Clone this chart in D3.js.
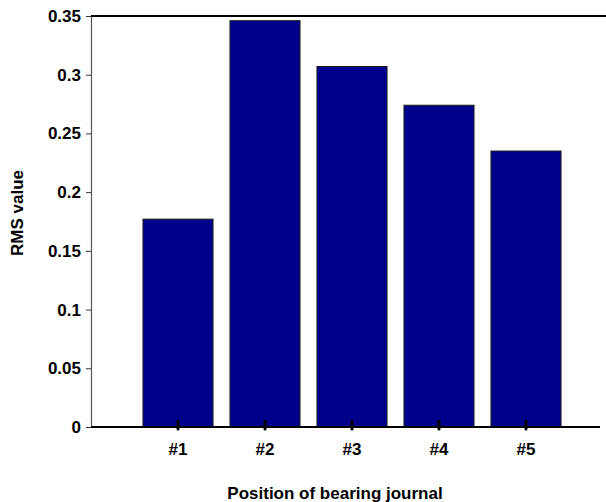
<!DOCTYPE html>
<html>
<head>
<meta charset="utf-8">
<script src="https://cdn.jsdelivr.net/npm/d3@7"></script>
<style>
  html, body { margin: 0; padding: 0; background: #fff; }
  svg { display: block; font-family: "Liberation Sans", Arial, sans-serif; }
</style>
</head>
<body>
<svg id="chart" width="606" height="502"></svg>
<script>
// Bearing journal positions and their RMS values
const positions = ["#1", "#2", "#3", "#4", "#5"];
const rmsValues = [0.177, 0.346, 0.307, 0.274, 0.235];
const yTickValues = [0, 0.05, 0.1, 0.15, 0.2, 0.25, 0.3, 0.35];
const yTickLabels = ["0", "0.05", "0.1", "0.15", "0.2", "0.25", "0.3", "0.35"];

const svg = d3.select("#chart");
const plotLeft = 91, plotRight = 606, plotTop = 16, plotBottom = 427;

const y = d3.scaleLinear().domain([0, 0.35]).range([plotBottom, plotTop]);
const x = d3.scaleBand()
  .domain(positions)
  .range([plotLeft, 613])
  .paddingInner(0.195)
  .paddingOuter(0.5975);

// Bars
svg.append("g")
  .selectAll("rect")
  .data(positions)
  .join("rect")
  .attr("x", d => x(d))
  .attr("width", x.bandwidth())
  .attr("y", (d, i) => y(rmsValues[i]))
  .attr("height", (d, i) => y(0) - y(rmsValues[i]))
  .attr("fill", "#00008c")
  .attr("stroke", "#1a1a1a")
  .attr("stroke-width", 1);

// Y axis
const yAxis = d3.axisLeft(y)
  .tickValues(yTickValues)
  .tickFormat((d, i) => yTickLabels[i])
  .tickSize(5)
  .tickSizeOuter(0)
  .tickPadding(5);
const gy = svg.append("g")
  .attr("transform", `translate(${plotLeft},0)`)
  .call(yAxis);
gy.select(".domain").attr("stroke", "#555").attr("stroke-width", 1.2);
gy.selectAll(".tick line").attr("stroke", "#333");
gy.selectAll(".tick text")
  .attr("font-size", 17)
  .attr("font-weight", "bold")
  .attr("fill", "#000")
  .attr("font-family", "'Liberation Sans', Arial, sans-serif");

// Top frame line
svg.append("line")
  .attr("x1", plotLeft).attr("x2", plotRight)
  .attr("y1", plotTop).attr("y2", plotTop)
  .attr("stroke", "#000").attr("stroke-width", 2);

// X axis baseline
svg.append("line")
  .attr("x1", plotLeft).attr("x2", 600)
  .attr("y1", plotBottom).attr("y2", plotBottom)
  .attr("stroke", "#000").attr("stroke-width", 2);

// X ticks and labels
const gx = svg.append("g");
gx.selectAll("line")
  .data(positions)
  .join("line")
  .attr("x1", d => x(d) + x.bandwidth() / 2)
  .attr("x2", d => x(d) + x.bandwidth() / 2)
  .attr("y1", plotBottom - 6)
  .attr("y2", plotBottom + 2)
  .attr("stroke", "#000")
  .attr("stroke-width", 3)
  .attr("stroke-linecap", "round");
gx.selectAll("text")
  .data(positions)
  .join("text")
  .attr("x", d => x(d) + x.bandwidth() / 2)
  .attr("y", 455)
  .attr("text-anchor", "middle")
  .attr("font-size", 17)
  .attr("font-weight", "bold")
  .text(d => d);

// Axis titles
svg.append("text")
  .attr("x", 335)
  .attr("y", 499)
  .attr("text-anchor", "middle")
  .attr("font-size", 17)
  .attr("font-weight", "bold")
  .text("Position of bearing journal");

svg.append("text")
  .attr("transform", "translate(23,213) rotate(-90)")
  .attr("text-anchor", "middle")
  .attr("font-size", 17)
  .attr("font-weight", "bold")
  .text("RMS value");
</script>
</body>
</html>
